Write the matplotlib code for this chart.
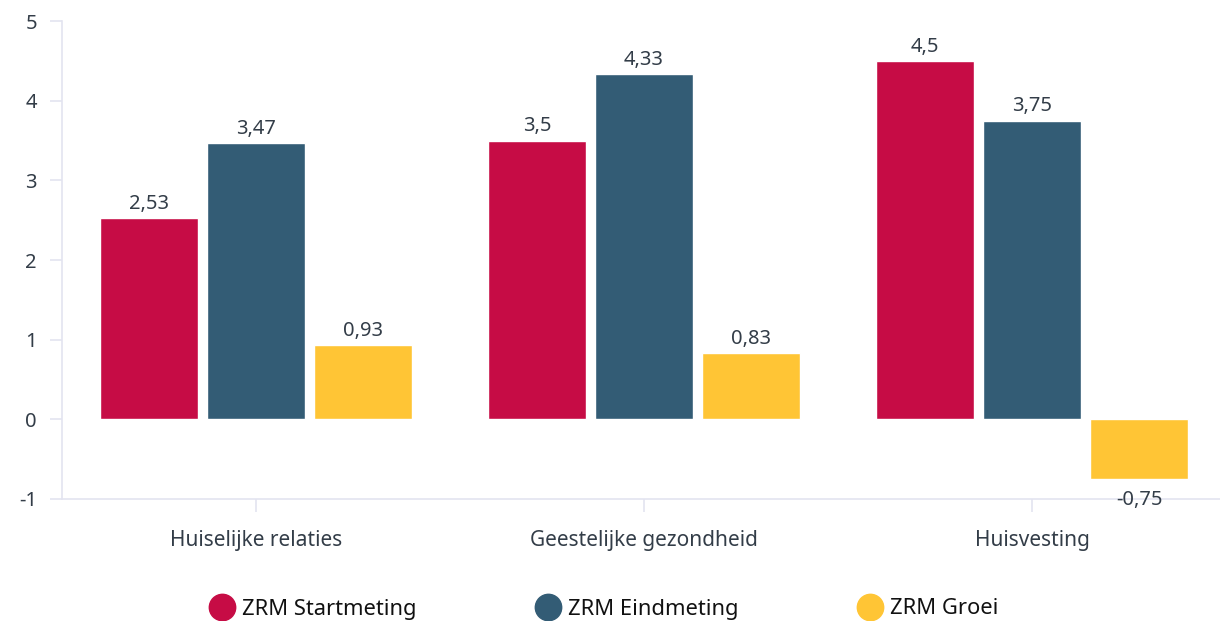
import matplotlib.pyplot as plt
from matplotlib.lines import Line2D
import numpy as np

# ZRM scores per domein
categories = ["Huiselijke relaties", "Geestelijke gezondheid", "Huisvesting"]
series = ["ZRM Startmeting", "ZRM Eindmeting", "ZRM Groei"]
start = [2.53, 3.5, 4.5]
eind = [3.47, 4.33, 3.75]
groei = [0.93, 0.83, -0.75]
colors = ["#C60C45", "#335C75", "#FFC535"]

plt.rcParams["font.family"] = ["Noto Sans", "DejaVu Sans"]
plt.rcParams["axes.unicode_minus"] = False

fig = plt.figure(figsize=(12.2, 6.21), dpi=100)
ax = fig.add_axes([62 / 1220, 1 - 499 / 621, (1226 - 62) / 1220, (499 - 21) / 621])

x = np.arange(len(categories))
width = 0.2526
step = 0.2758
for i, (vals, c) in enumerate(zip([start, eind, groei], colors)):
    bars = ax.bar(x + (i - 1) * step, vals, width, color=c,
                  edgecolor="white", linewidth=1, zorder=3)
    for b, v in zip(bars, vals):
        pad = 3 if v >= 0 else 8
        ax.annotate(str(v).replace(".", ","), (b.get_x() + b.get_width() / 2, v),
                    xytext=(0, pad if v >= 0 else -pad), textcoords="offset points",
                    ha="center", va="bottom" if v >= 0 else "top",
                    fontsize=14.5, color="#333d48")

ax.set_xlim(-0.5, 2.5)
ax.set_ylim(-1, 5)
ax.set_yticks(range(-1, 6))
ax.set_xticks(x)
ax.set_xticklabels(categories)

axis_col = "#e3e4f0"
for s in ["top", "right"]:
    ax.spines[s].set_visible(False)
ax.spines["left"].set_color(axis_col)
ax.spines["bottom"].set_color(axis_col)
ax.spines["left"].set_linewidth(1.2)
ax.spines["bottom"].set_linewidth(1.2)
ax.tick_params(axis="y", length=9, width=1.2, color=axis_col,
               labelsize=14.5, labelcolor="#333d48", pad=9)
ax.tick_params(axis="x", length=9, width=1.2, color=axis_col,
               labelsize=15, labelcolor="#333d48", pad=13)

handles = [Line2D([], [], marker="o", linestyle="", markersize=19,
                  markerfacecolor=c, markeredgecolor=c) for c in colors]
fig.legend(handles, series, loc="center", bbox_to_anchor=(0.491, 1 - 609 / 621),
           ncol=3, frameon=False, fontsize=15.8, columnspacing=5.0,
           handletextpad=-0.1, borderaxespad=0, labelcolor="#111111")

fig.savefig("out.png", dpi=100)
